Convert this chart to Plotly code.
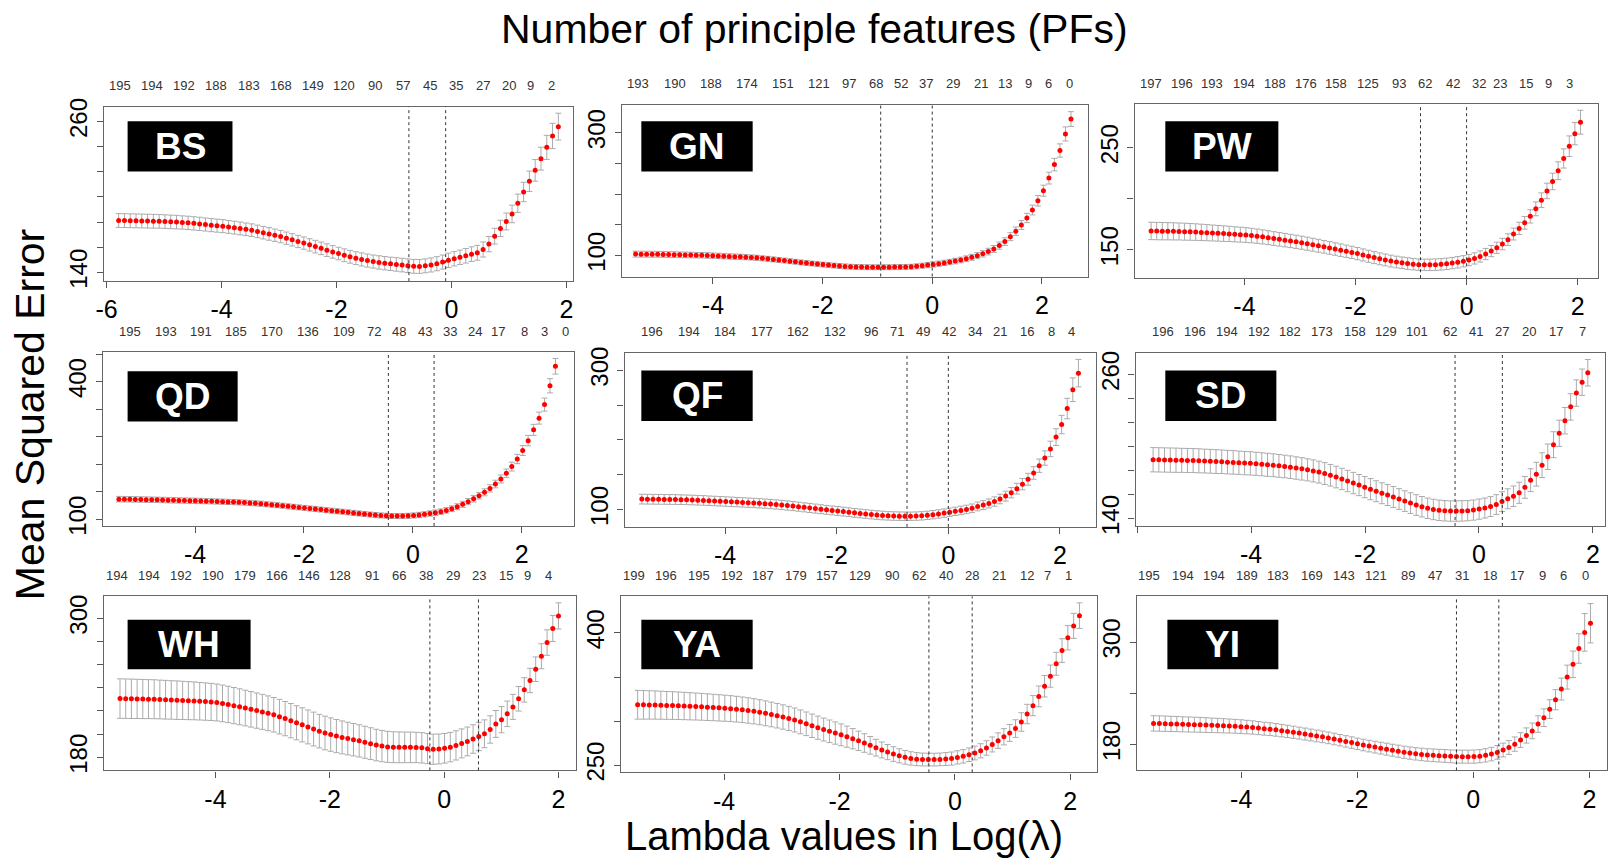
import numpy as np
import plotly.graph_objects as go

W, H = 1608, 861
FONT = "Liberation Sans, Arial, sans-serif"

panels = ["BS", "GN", "PW", "QD", "QF", "SD", "WH", "YA", "YI"]

# log(lambda) of the first and last fitted lambda in each panel
loglam_first = [-5.79, -5.41, -5.68, -5.40, -5.49, -5.72, -5.67, -5.50, -5.51]
loglam_last = [1.86, 2.53, 2.05, 2.62, 2.33, 1.91, 2.00, 2.16, 2.02]

# lambda.min and lambda.1se (log scale)
lambda_min = [-0.74, -0.94, -0.83, -0.45, -0.74, -0.42, -0.25, -0.45, -0.29]
lambda_1se = [-0.10, 0.00, 0.00, 0.39, 0.00, 0.41, 0.60, 0.30, 0.44]

mse_BS = [181.3,181.2,181.1,181.0,180.9,180.8,180.7,180.6,180.4,180.2,
          180.0,179.7,179.4,179.0,178.6,178.1,177.6,177.2,176.8,176.2,
          175.6,175.0,174.3,173.6,172.6,171.6,170.6,169.6,168.5,167.2,
          165.9,164.6,163.3,161.9,160.5,159.1,157.7,156.3,155.0,153.6,
          152.4,151.3,150.3,149.4,148.6,147.9,147.3,146.8,146.3,145.8,
          145.3,144.8,144.7,145.2,145.9,146.9,148.2,149.6,150.8,152.0,
          153.2,154.5,155.6,158.2,162.5,168.8,175.0,180.5,186.5,195.0,
          204.0,212.5,221.2,230.5,239.5,248.6,256.0]
sd_BS = [5.5,5.5,5.5,5.5,5.5,5.5,5.5,5.4,5.4,5.4,
         5.4,5.3,5.3,5.3,5.3,5.2,5.2,5.2,5.2,5.1,
         5.1,5.1,5.0,5.0,5.0,5.0,5.0,4.9,4.9,4.9,
         4.9,4.9,4.9,4.9,5.0,5.0,5.0,5.0,5.0,5.1,
         5.1,5.1,5.2,5.2,5.2,5.3,5.3,5.3,5.4,5.4,
         5.4,5.5,5.5,5.5,5.6,5.6,5.6,5.7,5.7,5.7,
         5.8,5.8,5.9,6.0,6.1,6.3,6.5,6.7,7.0,7.3,
         7.7,8.1,8.6,9.1,9.6,10.1,10.7]

mse_GN = [102.1,102.0,102.0,101.9,101.8,101.6,101.4,101.2,101.0,100.8,
          100.6,100.4,100.2,99.9,99.6,99.2,98.8,98.4,98.0,97.6,
          97.1,96.6,96.0,95.2,94.4,93.5,92.6,91.6,90.6,89.6,
          88.6,87.6,86.7,85.8,85.0,84.2,83.4,82.7,82.1,81.6,
          81.2,80.9,80.8,80.7,80.7,80.7,80.8,80.9,81.0,81.2,
          81.5,82.2,83.2,84.3,85.3,86.5,87.8,89.2,90.7,92.5,
          94.6,96.9,99.6,102.6,106.2,110.5,116.0,122.5,130.5,139.5,
          149.5,161.0,174.0,189.0,205.5,226.0,248.0,271.0,298.0,322.3]
sd_GN = [4.8,4.8,4.8,4.8,4.7,4.7,4.7,4.7,4.6,4.6,
         4.6,4.5,4.5,4.5,4.4,4.4,4.4,4.3,4.3,4.3,
         4.2,4.2,4.2,4.1,4.1,4.1,4.0,4.0,4.0,4.0,
         4.0,4.0,4.0,4.0,4.0,4.0,4.0,4.0,4.0,4.0,
         4.0,4.0,4.0,4.0,4.0,4.0,4.0,4.0,4.0,4.0,
         4.0,4.1,4.1,4.2,4.2,4.3,4.3,4.4,4.5,4.6,
         4.7,4.8,5.0,5.2,5.4,5.6,5.9,6.2,6.5,6.8,
         7.2,7.6,8.0,8.5,9.0,9.6,10.2,10.8,11.4,12.0]

mse_PW = [168.5,168.4,168.3,168.2,168.1,168.0,167.8,167.6,167.4,167.1,
          166.8,166.5,166.2,165.9,165.6,165.2,164.9,164.5,164.0,163.4,
          162.7,161.9,161.1,160.3,159.5,158.7,157.9,157.0,156.0,155.0,
          154.0,153.0,151.9,150.8,149.7,148.6,147.5,146.3,145.0,143.7,
          142.4,141.2,140.1,139.0,138.1,137.3,136.6,136.0,135.5,135.3,
          135.3,135.5,135.8,136.3,137.0,137.8,138.8,140.0,141.6,143.5,
          145.9,148.8,152.0,155.7,160.0,165.5,171.0,176.5,182.8,190.2,
          198.6,207.7,217.0,227.5,239.5,251.5,263.8,275.0]
sd_PW = [8.5,8.5,8.5,8.4,8.4,8.3,8.3,8.2,8.1,8.0,7.9,
         7.8,7.7,7.6,7.5,7.4,7.3,7.2,7.1,7.0,6.9,6.8,6.7,6.6,6.6,6.5,6.5,6.4,
         6.4,6.3,6.3,6.2,6.2,6.1,6.1,6.0,6.0,6.0,5.9,5.9,5.9,5.8,5.8,5.8,5.7,5.7,5.7,5.6,
         5.6,5.6,5.6,5.6,5.6,5.6,5.6,5.6,5.5,5.5,5.5,5.5,5.5,5.5,5.5,
         5.6,5.7,5.8,6.0,6.2,6.5,6.8,7.2,7.6,8.1,8.7,9.4,10.1,10.9,11.7]

mse_QD = [144.1,143.9,143.7,143.5,143.3,143.0,142.8,142.5,142.2,141.9,
          141.6,141.3,141.0,140.7,140.4,140.1,139.7,139.3,138.9,138.5,
          138.1,137.6,137.1,136.5,135.8,135.0,134.1,133.1,132.0,130.9,
          129.7,128.5,127.3,126.1,124.9,123.7,122.5,121.3,120.1,118.9,
          117.7,116.5,115.3,114.1,112.9,111.7,110.6,109.5,108.6,107.9,
          107.4,107.2,107.3,107.7,108.5,109.6,111.0,112.7,114.6,116.8,
          119.6,123.2,127.6,132.8,138.6,144.8,151.5,159.0,167.5,177.0,
          188.0,200.5,215.0,231.5,250.0,271.5,295.0,320.5,350.0,391.0,433.4]
sd_QD = [6.0,6.0,6.0,6.0,6.0,6.0,5.9,5.9,5.9,5.9,5.9,5.8,5.8,5.8,5.8,5.8,5.7,5.7,5.7,5.7,
         5.7,5.6,5.6,5.6,5.6,5.6,5.6,5.5,5.5,5.5,5.5,5.5,5.5,5.5,5.5,5.5,5.5,5.5,5.5,5.5,
         5.5,5.5,5.5,5.5,5.5,5.5,5.5,5.5,5.5,5.5,5.5,5.5,5.5,5.6,5.6,5.7,5.7,5.8,5.9,6.0,
         6.1,6.2,6.4,6.6,6.8,7.0,7.3,7.6,7.9,8.3,8.7,9.1,9.6,10.1,10.7,11.3,12.0,13.0,14.2,15.5,17.0]

mse_QF = [115.0,114.9,114.8,114.7,114.6,114.5,114.4,114.2,114.0,113.7,
          113.4,113.1,112.7,112.3,111.9,111.5,111.1,110.7,110.3,109.9,
          109.5,109.0,108.5,107.9,107.3,106.6,105.8,105.0,104.1,103.2,
          102.3,101.4,100.5,99.6,98.8,98.0,97.1,96.2,95.3,94.4,
          93.6,92.8,92.1,91.5,91.0,90.7,90.5,90.4,90.4,90.6,
          91.0,91.7,92.6,93.7,94.9,96.2,97.5,98.8,100.2,101.8,
          104.5,106.5,108.8,111.5,115.2,119.3,124.2,130.0,136.5,143.5,
          152.5,163.0,174.0,187.0,204.0,222.0,245.0,272.0,295.8]
sd_QF = [7.0,7.0,7.0,7.0,7.0,7.0,7.0,6.9,6.9,6.9,6.9,6.9,6.8,6.8,6.8,6.8,6.8,6.7,6.7,6.7,
         6.7,6.7,6.6,6.6,6.6,6.6,6.6,6.5,6.5,6.5,6.5,6.5,6.4,6.4,6.4,6.4,6.3,6.3,6.3,6.3,
         6.2,6.2,6.2,6.2,6.1,6.1,6.1,6.1,6.0,6.0,6.0,6.0,6.0,6.0,6.0,6.0,6.0,6.1,6.1,6.2,
         6.3,6.4,6.5,6.7,6.9,7.1,7.4,7.7,8.1,8.5,9.0,9.6,10.3,11.1,12.0,13.2,14.7,17.0,19.7]

mse_SD = [189.0,188.9,188.8,188.7,188.6,188.5,188.4,188.3,188.1,187.9,
          187.7,187.5,187.3,187.0,186.8,186.5,186.2,186.0,185.6,185.2,
          184.8,184.4,183.9,183.4,182.8,182.1,181.4,180.6,179.7,178.7,
          177.5,176.1,174.6,173.0,171.3,169.6,167.9,166.2,164.5,162.8,
          161.1,159.6,158.0,156.3,154.6,152.9,151.3,149.9,148.6,147.6,
          146.9,146.5,146.3,146.3,146.4,146.6,147.1,147.9,148.8,150.0,
          151.7,154.2,156.5,158.6,161.5,166.0,172.0,177.0,184.5,191.5,
          201.5,211.0,221.5,233.0,244.5,253.5,261.4]
sd_SD = [10.1,10.1,10.1,10.1,10.1,10.0,10.0,10.0,10.0,9.9,9.9,9.9,9.8,9.8,9.8,9.7,9.7,9.7,9.6,9.6,
         9.6,9.5,9.5,9.4,9.4,9.3,9.3,9.2,9.2,9.1,9.1,9.0,9.0,8.9,8.9,8.9,8.8,8.8,8.8,8.7,
         8.7,8.7,8.7,8.6,8.6,8.6,8.6,8.5,8.5,8.5,8.5,8.5,8.5,8.5,8.5,8.4,8.4,8.4,8.3,8.3,
         8.2,8.2,8.3,8.5,8.8,9.1,9.5,9.9,10.3,10.6,10.8,10.9,11.0,11.0,11.0,11.0,11.0]

mse_WH = [230.7,230.6,230.5,230.4,230.3,230.2,230.1,229.9,229.7,229.5,
          229.3,229.1,228.9,228.7,228.4,228.1,227.8,227.3,226.5,225.6,
          224.6,223.6,222.5,221.4,220.3,219.2,218.0,216.7,215.1,213.4,
          211.6,209.8,208.0,206.2,204.4,202.6,201.0,199.6,198.3,197.2,
          196.2,195.2,194.2,193.0,191.8,190.6,189.7,189.0,188.7,188.6,
          188.6,188.6,188.5,188.2,187.5,187.0,187.2,187.8,188.8,190.3,
          192.0,193.7,195.8,198.0,200.3,204.0,208.8,212.5,217.5,223.5,
          230.5,238.2,246.3,256.0,267.2,279.0,291.2,302.0]
sd_WH = [17.0,17.0,17.0,16.9,16.9,16.8,16.8,16.7,16.7,16.6,16.6,16.5,16.4,16.3,16.2,16.1,16.0,
         15.9,15.8,15.7,15.6,15.5,15.4,15.3,15.2,15.1,15.0,14.9,14.9,14.8,14.8,14.7,14.7,14.6,14.6,14.5,14.5,
         14.4,14.3,14.2,14.1,14.0,13.9,13.8,13.7,13.6,13.5,13.4,13.3,13.3,13.2,13.2,13.1,13.1,13.0,13.0,
         12.9,12.8,12.7,12.6,12.5,12.4,12.3,12.2,12.0,11.8,11.6,11.3,11.0,10.8,10.6,10.5,10.5,10.6,10.8,11.0,11.2,11.3]

mse_YA = [318.5,318.4,318.3,318.2,318.0,317.8,317.6,317.4,317.1,316.8,
          316.5,316.2,315.8,315.4,315.0,314.6,314.1,313.5,312.8,312.0,
          311.1,310.0,308.8,307.5,306.1,304.6,303.0,301.2,299.1,296.9,
          294.7,292.5,290.4,288.4,286.4,284.4,282.3,280.0,277.6,275.1,
          272.5,269.8,267.2,264.8,262.6,260.6,258.9,257.6,256.8,256.4,
          256.3,256.3,256.5,256.9,257.5,258.8,260.0,261.8,263.8,266.3,
          269.5,273.5,277.8,282.2,286.5,291.5,299.0,308.0,317.5,328.0,
          339.5,351.0,365.0,380.0,394.5,408.0,419.6]
sd_YA = [16.3,16.2,16.1,16.0,15.9,15.8,15.7,15.6,15.5,15.4,15.3,15.2,15.1,15.0,14.9,14.8,
         14.7,14.6,14.5,14.4,14.3,14.2,14.1,14.0,13.9,13.8,13.7,13.6,13.5,13.4,13.3,13.2,13.0,12.8,12.6,12.4,
         12.0,11.5,11.0,10.5,10.0,9.5,9.0,8.6,8.3,8.0,7.8,7.6,7.4,7.3,7.2,7.2,7.2,7.3,7.4,7.5,
         7.6,7.7,7.8,8.0,8.2,8.5,8.8,9.2,9.6,10.0,10.5,11.0,11.4,11.8,12.2,12.6,13.0,13.4,13.8,14.2,14.5]

mse_YI = [204.8,204.6,204.4,204.2,204.0,203.7,203.5,203.3,203.1,202.8,
          202.5,202.3,202.0,201.7,201.4,201.0,200.5,200.0,199.3,198.6,
          198.0,197.2,196.3,195.4,194.4,193.4,192.3,191.2,190.1,189.0,
          187.8,186.5,185.1,183.7,182.3,180.8,179.5,178.2,177.0,175.8,
          174.6,173.4,172.2,171.0,170.0,169.1,168.4,167.8,167.4,167.0,
          166.6,166.2,165.9,165.8,165.8,165.9,166.4,167.4,168.8,170.8,
          173.6,176.5,180.5,185.3,190.6,196.0,204.0,211.5,221.5,232.5,
          245.0,259.0,274.0,292.5,311.4,322.1]
sd_YI = [9.0,9.0,9.0,8.9,8.9,8.8,8.8,8.7,8.7,8.6,8.5,8.4,8.3,8.2,8.1,8.0,
         7.9,7.8,7.7,7.6,7.5,7.4,7.3,7.2,7.1,7.0,7.0,6.9,6.9,6.8,6.8,6.8,6.7,6.7,6.7,6.7,
         6.8,6.8,6.9,6.9,7.0,7.0,7.1,7.1,7.2,7.2,7.3,7.3,7.4,7.4,7.5,7.5,7.6,7.6,7.6,7.7,7.7,7.8,7.9,8.0,
         8.1,8.2,8.4,8.6,8.9,9.2,9.7,10.3,11.0,11.8,12.8,14.0,15.5,17.3,22.0,23.0]

mse_all = [mse_BS, mse_GN, mse_PW, mse_QD, mse_QF, mse_SD, mse_WH, mse_YA, mse_YI]
sd_all = [sd_BS, sd_GN, sd_PW, sd_QD, sd_QF, sd_SD, sd_WH, sd_YA, sd_YI]

# number of non-zero coefficients (top axis) : positions in log(lambda) and labels
nz_pos_BS = [-5.76,-5.21,-4.65,-4.09,-3.53,-2.97,-2.41,-1.87,-1.33,-0.85,-0.38,0.08,0.55,1.01,1.38,1.74]
nz_lab_BS = ["195","194","192","188","183","168","149","120","90","57","45","35","27","20","9","2"]
nz_pos_GN = [-5.36,-4.69,-4.04,-3.37,-2.73,-2.07,-1.52,-1.02,-0.57,-0.11,0.38,0.89,1.33,1.76,2.12,2.51]
nz_lab_GN = ["193","190","188","174","151","121","97","68","52","37","29","21","13","9","6","0"]
nz_pos_PW = [-5.68,-5.12,-4.58,-4.01,-3.45,-2.89,-2.35,-1.77,-1.22,-0.74,-0.25,0.23,0.61,1.07,1.47,1.86]
nz_lab_PW = ["197","196","193","194","188","176","158","125","93","62","42","32","23","15","9","3"]
nz_pos_QD = [-5.20,-4.54,-3.89,-3.24,-2.58,-1.92,-1.26,-0.72,-0.25,0.22,0.68,1.14,1.56,2.05,2.42,2.81]
nz_lab_QD = ["195","193","191","185","170","136","109","72","48","43","33","24","17","8","3","0"]
nz_pos_QF = [-5.30,-4.64,-4.00,-3.33,-2.69,-2.03,-1.38,-0.92,-0.45,0.01,0.47,0.93,1.41,1.85,2.21]
nz_lab_QF = ["196","194","184","177","162","132","96","71","49","42","34","21","16","8","4"]
nz_pos_SD = [-5.55,-4.98,-4.42,-3.86,-3.31,-2.75,-2.18,-1.64,-1.08,-0.51,-0.05,0.41,0.88,1.35,1.81]
nz_lab_SD = ["196","196","194","192","182","173","158","129","101","62","41","27","20","17","7"]
nz_pos_WH = [-5.73,-5.17,-4.60,-4.04,-3.49,-2.93,-2.36,-1.82,-1.26,-0.79,-0.32,0.15,0.61,1.08,1.45,1.82]
nz_lab_WH = ["194","194","192","190","179","166","146","128","91","66","38","29","23","15","9","4"]
nz_pos_YA = [-5.57,-5.00,-4.44,-3.87,-3.32,-2.76,-2.21,-1.65,-1.09,-0.62,-0.16,0.30,0.77,1.25,1.60,1.97]
nz_lab_YA = ["199","196","195","192","187","179","157","129","90","62","40","28","21","12","7","1"]
nz_pos_YI = [-5.58,-5.01,-4.46,-3.90,-3.36,-2.78,-2.23,-1.68,-1.13,-0.66,-0.20,0.28,0.75,1.20,1.56,1.94]
nz_lab_YI = ["195","194","194","189","183","169","143","121","89","47","31","18","17","9","6","0"]
nz_pos_all = [nz_pos_BS, nz_pos_GN, nz_pos_PW, nz_pos_QD, nz_pos_QF, nz_pos_SD, nz_pos_WH, nz_pos_YA, nz_pos_YI]
nz_lab_all = [nz_lab_BS, nz_lab_GN, nz_lab_PW, nz_lab_QD, nz_lab_QF, nz_lab_SD, nz_lab_WH, nz_lab_YA, nz_lab_YI]

# axis ticks
x_tickvals = [[-6,-4,-2,0,2],[-4,-2,0,2],[-4,-2,0,2],[-4,-2,0,2],[-4,-2,0,2],
              [-6,-4,-2,0,2],[-4,-2,0,2],[-4,-2,0,2],[-4,-2,0,2]]
x_ticktext = [["-6","-4","-2","0","2"],["-4","-2","0","2"],["-4","-2","0","2"],["-4","-2","0","2"],
              ["-4","-2","0","2"],["","-4","-2","0","2"],["-4","-2","0","2"],["-4","-2","0","2"],["-4","-2","0","2"]]
y_tickvals = [[140,160,180,200,220,240,260],[100,150,200,250,300],[150,200,250],
              [100,160,220,280,340,400,460],[100,150,200,250,300],[140,160,180,200,220,240,260],
              [180,200,220,240,260,280,300],[250,300,350,400],[180,240,300]]
y_ticktext = [["140","","","","","","260"],["100","","","","300"],["150","","250"],
              ["100","","","","","400",""],["100","","","","300"],["140","","","","","","260"],
              ["180","","","","","","300"],["250","","","400"],["180","","300"]]

# ---------- layout geometry (pixels) ----------
box_px = [  # left, right, top, bottom
    (96.2, 567.8, 100.7, 279.0), (616.8, 1085.2, 99.0, 274.3), (1132.2, 1597.5, 98.3, 276.0),
    (95.4, 568.5, 351.7, 529.0), (619.6, 1093.9, 352.3, 530.0), (1133.2, 1604.6, 352.3, 529.0),
    (96.2, 570.7, 601.0, 778.7), (615.8, 1094.5, 601.0, 780.7), (1134.6, 1606.5, 601.0, 778.7)]
x_ranges = [(-6.05, 2.115), (-5.663, 2.837), (-5.978, 2.358), (-5.694, 2.955), (-5.80, 2.653),
            (-6.028, 2.205), (-5.955, 2.304), (-5.793, 2.465), (-5.796, 2.296)]
y_ranges = [(133.0, 271.96), (65.5, 345.3), (122.2, 292.6), (85.7, 463.8), (75.1, 324.8),
            (133.9, 277.9), (168.7, 318.8), (241.8, 441.4), (149.7, 353.5)]
label_px = [  # left, right, top, bottom
    (120.2, 225.6, 115.7, 167.0), (636.5, 748.4, 115.7, 167.0), (1163.1, 1276.7, 115.7, 167.0),
    (120.2, 230.8, 371.0, 422.3), (636.5, 748.4, 370.3, 421.7), (1163.1, 1274.7, 370.3, 421.7),
    (120.2, 243.8, 624.7, 675.3), (636.5, 748.4, 624.7, 675.3), (1165.2, 1276.7, 624.7, 675.3)]

fig = go.Figure()
layout = dict(width=W, height=H, margin=dict(l=0, r=0, t=0, b=0),
              paper_bgcolor="white", plot_bgcolor="white", showlegend=False,
              font=dict(family=FONT, color="black"))
shapes, annotations = [], []

for k in range(9):
    n = k + 1
    xs = "x" if n == 1 else f"x{n}"
    ys = "y" if n == 1 else f"y{n}"
    xa = "xaxis" if n == 1 else f"xaxis{n}"
    ya = "yaxis" if n == 1 else f"yaxis{n}"
    l, r, t, b = box_px[k]
    loglam = np.linspace(loglam_first[k], loglam_last[k], len(mse_all[k]))

    fig.add_trace(go.Scatter(
        x=loglam, y=mse_all[k], mode="markers", xaxis=xs, yaxis=ys,
        marker=dict(color="#ff0000", size=5, line=dict(width=0)),
        error_y=dict(type="data", array=sd_all[k], visible=True,
                     color="#ababab", thickness=1, width=3),
        hoverinfo="x+y", showlegend=False))

    layout[xa] = dict(domain=[l / W, r / W], range=list(x_ranges[k]), anchor=ys,
                      tickvals=x_tickvals[k], ticktext=x_ticktext[k],
                      ticks="outside", ticklen=6, tickwidth=1, tickcolor="#555",
                      showline=True, mirror=True, linecolor="#666", linewidth=1.3,
                      showgrid=False, zeroline=False,
                      tickfont=dict(family=FONT, size=25, color="black"))
    layout[ya] = dict(domain=[1 - b / H, 1 - t / H], range=list(y_ranges[k]), anchor=xs,
                      tickvals=y_tickvals[k], ticktext=y_ticktext[k], tickangle=-90,
                      ticks="outside", ticklen=6, tickwidth=1, tickcolor="#555",
                      showline=True, mirror=True, linecolor="#666", linewidth=1.3,
                      showgrid=False, zeroline=False,
                      tickfont=dict(family=FONT, size=24, color="black"))

    for v in (lambda_min[k], lambda_1se[k]):
        shapes.append(dict(type="line", xref=xs, yref=f"{ys} domain", x0=v, x1=v, y0=0, y1=1,
                           line=dict(color="#333", width=1, dash="dot")))

    for p, s in zip(nz_pos_all[k], nz_lab_all[k]):
        annotations.append(dict(x=p, y=1, xref=xs, yref=f"{ys} domain", text=s,
                                showarrow=False, yanchor="middle", yshift=21,
                                font=dict(family=FONT, size=13, color="#333")))

    ll, lr, lt, lb = label_px[k]
    shapes.append(dict(type="rect", xref="paper", yref="paper",
                       x0=ll / W, x1=lr / W, y0=1 - lb / H, y1=1 - lt / H,
                       fillcolor="black", line=dict(width=0)))
    annotations.append(dict(x=(ll + lr) / 2 / W, y=1 - (lt + lb) / 2 / H, xref="paper", yref="paper",
                            text=f"<b>{panels[k]}</b>", showarrow=False,
                            xanchor="center", yanchor="middle",
                            font=dict(family=FONT, size=37, color="white")))

annotations.append(dict(x=811 / W, y=1 - 21 / H, xref="paper", yref="paper",
                        text="Number of principle features (PFs)", showarrow=False,
                        xanchor="center", yanchor="middle",
                        font=dict(family=FONT, size=41, color="black")))
annotations.append(dict(x=840 / W, y=1 - 846 / H, xref="paper", yref="paper",
                        text="Lambda values in Log(λ)", showarrow=False,
                        xanchor="center", yanchor="middle",
                        font=dict(family=FONT, size=40, color="black")))
annotations.append(dict(x=22 / W, y=1 - 415 / H, xref="paper", yref="paper",
                        text="Mean Squared Error", showarrow=False, textangle=-90,
                        xanchor="center", yanchor="middle",
                        font=dict(family=FONT, size=41, color="black")))

layout["shapes"] = shapes
layout["annotations"] = annotations
fig.update_layout(**layout)
fig.write_html("out.html")
